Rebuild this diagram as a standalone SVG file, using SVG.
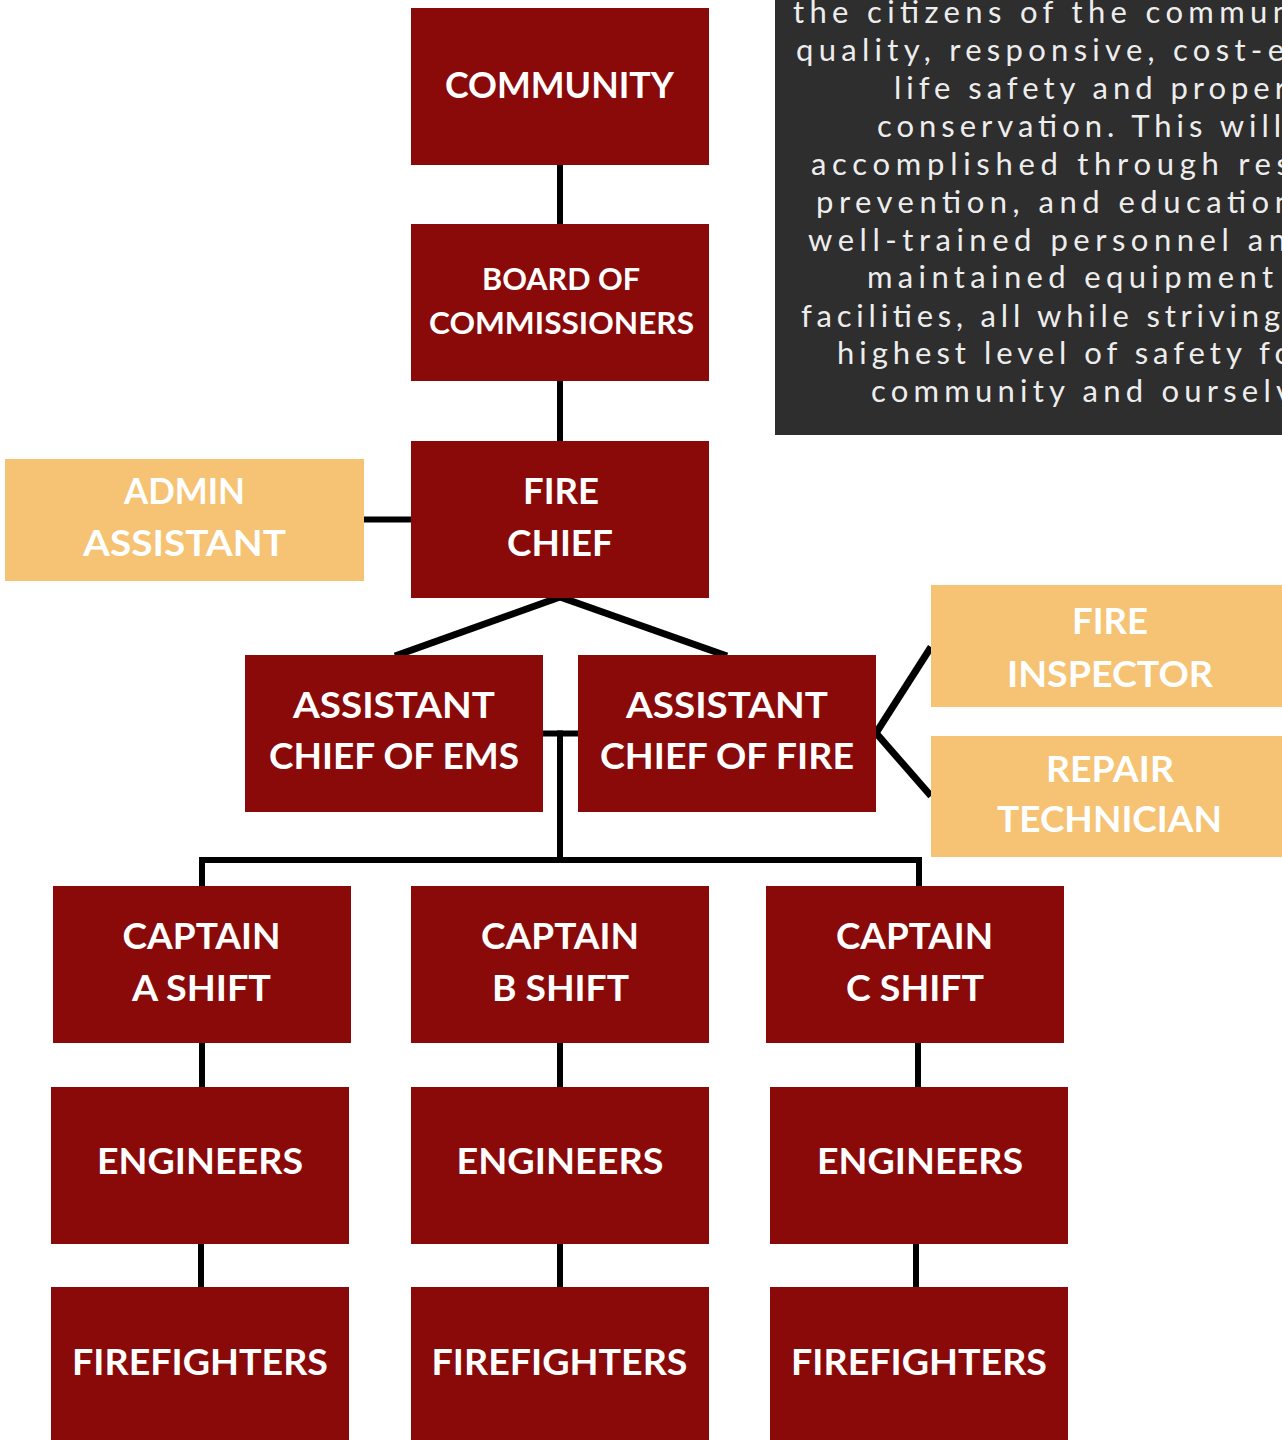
<svg xmlns="http://www.w3.org/2000/svg" width="1282" height="1440" viewBox="0 0 1282 1440">
<style>
.red{fill:#8A0A09}
.gold{fill:#F5C373}
.lbl{font-family:Lato,"Open Sans","Liberation Sans",sans-serif;font-weight:700;font-size:36px;fill:#ffffff;text-anchor:middle}
.sm{font-size:30px}
.mis{font-family:Lato,"Open Sans","Liberation Sans",sans-serif;font-weight:400;font-size:31px;fill:#EDEDED}
.con line,.con polyline{stroke:#000;stroke-width:6;fill:none}
.con .d{stroke-width:7}
</style>
<rect width="1282" height="1440" fill="#ffffff"/>
<g id="mission">
<rect x="775" y="-10" width="520" height="445" fill="#2E2E2E"/>
<text class="mis" x="793" y="23" textLength="497" lengthAdjust="spacing">the citizens of the commun</text>
<text class="mis" x="796" y="61" textLength="488" lengthAdjust="spacing">quality, responsive, cost-e</text>
<text class="mis" x="894" y="99" textLength="392" lengthAdjust="spacing">life safety and proper</text>
<text class="mis" x="877" y="137" textLength="404" lengthAdjust="spacing">conservation. This will</text>
<text class="mis" x="811" y="175" textLength="479" lengthAdjust="spacing">accomplished through res</text>
<text class="mis" x="816" y="213" textLength="476" lengthAdjust="spacing">prevention, and education</text>
<text class="mis" x="808" y="251" textLength="478" lengthAdjust="spacing">well-trained personnel an</text>
<text class="mis" x="867" y="288" textLength="406" lengthAdjust="spacing">maintained equipment</text>
<text class="mis" x="801" y="327" textLength="479" lengthAdjust="spacing">facilities, all while striving</text>
<text class="mis" x="837" y="364" textLength="455" lengthAdjust="spacing">highest level of safety fo</text>
<text class="mis" x="871" y="402" textLength="421" lengthAdjust="spacing">community and ourselv</text>
</g>
<g id="connectors" class="con">
<line x1="560" y1="165" x2="560" y2="224"/>
<line x1="560" y1="381" x2="560" y2="441"/>
<line x1="364" y1="519.5" x2="411" y2="519.5"/>
<line class="d" x1="560" y1="597" x2="395" y2="656"/>
<line class="d" x1="560" y1="597" x2="727" y2="656"/>
<line x1="543" y1="733.5" x2="578" y2="733.5"/>
<line x1="560" y1="730.5" x2="560" y2="860"/>
<polyline points="202,886 202,860 919,860 919,886"/>
<line class="d" x1="876" y1="733" x2="931" y2="647"/>
<line class="d" x1="876" y1="733" x2="931" y2="796"/>
<line x1="202" y1="1043" x2="202" y2="1087"/>
<line x1="560" y1="1043" x2="560" y2="1087"/>
<line x1="918" y1="1043" x2="918" y2="1087"/>
<line x1="201" y1="1244" x2="201" y2="1287"/>
<line x1="560" y1="1244" x2="560" y2="1287"/>
<line x1="916" y1="1244" x2="916" y2="1287"/>
</g>
<g id="community"><rect class="red" x="411" y="8" width="298" height="157"/>
<text class="lbl" x="559.5" y="98" textLength="229" lengthAdjust="spacingAndGlyphs" font-size="37">COMMUNITY</text></g>
<g id="board"><rect class="red" x="411" y="224" width="298" height="157"/>
<text class="lbl sm" x="561" y="290" textLength="158" lengthAdjust="spacingAndGlyphs">BOARD OF</text>
<text class="lbl sm" x="561.5" y="334" textLength="265" lengthAdjust="spacingAndGlyphs">COMMISSIONERS</text></g>
<g id="fire-chief"><rect class="red" x="411" y="441" width="298" height="157"/>
<text class="lbl" x="561" y="504" textLength="76" lengthAdjust="spacingAndGlyphs">FIRE</text>
<text class="lbl" x="560" y="556" textLength="106" lengthAdjust="spacingAndGlyphs">CHIEF</text></g>
<g id="admin-assistant"><rect class="gold" x="5" y="459" width="359" height="122"/>
<text class="lbl" x="184.5" y="504" textLength="121" lengthAdjust="spacingAndGlyphs">ADMIN</text>
<text class="lbl" x="184.5" y="556" textLength="203" lengthAdjust="spacingAndGlyphs">ASSISTANT</text></g>
<g id="asst-chief-ems"><rect class="red" x="245" y="655" width="298" height="157"/>
<text class="lbl" x="394" y="718" textLength="202" lengthAdjust="spacingAndGlyphs">ASSISTANT</text>
<text class="lbl" x="394" y="769" textLength="250" lengthAdjust="spacingAndGlyphs">CHIEF OF EMS</text></g>
<g id="asst-chief-fire"><rect class="red" x="578" y="655" width="298" height="157"/>
<text class="lbl" x="727" y="718" textLength="202" lengthAdjust="spacingAndGlyphs">ASSISTANT</text>
<text class="lbl" x="727" y="769" textLength="254" lengthAdjust="spacingAndGlyphs">CHIEF OF FIRE</text></g>
<g id="fire-inspector"><rect class="gold" x="931" y="585" width="360" height="122"/>
<text class="lbl" x="1110" y="634" textLength="76" lengthAdjust="spacingAndGlyphs">FIRE</text>
<text class="lbl" x="1110" y="687" textLength="206" lengthAdjust="spacingAndGlyphs">INSPECTOR</text></g>
<g id="repair-technician"><rect class="gold" x="931" y="736" width="360" height="121"/>
<text class="lbl" x="1110" y="782" textLength="128" lengthAdjust="spacingAndGlyphs">REPAIR</text>
<text class="lbl" x="1109.5" y="832" textLength="225" lengthAdjust="spacingAndGlyphs">TECHNICIAN</text></g>
<g id="captain-a"><rect class="red" x="53" y="886" width="298" height="157"/>
<text class="lbl" x="201.5" y="949" textLength="158" lengthAdjust="spacingAndGlyphs">CAPTAIN</text>
<text class="lbl" x="201.5" y="1001" textLength="139" lengthAdjust="spacingAndGlyphs">A SHIFT</text></g>
<g id="captain-b"><rect class="red" x="411" y="886" width="298" height="157"/>
<text class="lbl" x="560" y="949" textLength="158" lengthAdjust="spacingAndGlyphs">CAPTAIN</text>
<text class="lbl" x="560.5" y="1001" textLength="137" lengthAdjust="spacingAndGlyphs">B SHIFT</text></g>
<g id="captain-c"><rect class="red" x="766" y="886" width="298" height="157"/>
<text class="lbl" x="914.5" y="949" textLength="157" lengthAdjust="spacingAndGlyphs">CAPTAIN</text>
<text class="lbl" x="915" y="1001" textLength="138" lengthAdjust="spacingAndGlyphs">C SHIFT</text></g>
<g id="engineers-a"><rect class="red" x="51" y="1087" width="298" height="157"/>
<text class="lbl" x="200" y="1174" textLength="206" lengthAdjust="spacingAndGlyphs">ENGINEERS</text></g>
<g id="engineers-b"><rect class="red" x="411" y="1087" width="298" height="157"/>
<text class="lbl" x="560" y="1174" textLength="207" lengthAdjust="spacingAndGlyphs">ENGINEERS</text></g>
<g id="engineers-c"><rect class="red" x="770" y="1087" width="298" height="157"/>
<text class="lbl" x="920" y="1174" textLength="206" lengthAdjust="spacingAndGlyphs">ENGINEERS</text></g>
<g id="firefighters-a"><rect class="red" x="51" y="1287" width="298" height="160"/>
<text class="lbl" x="200" y="1375" textLength="256" lengthAdjust="spacingAndGlyphs">FIREFIGHTERS</text></g>
<g id="firefighters-b"><rect class="red" x="411" y="1287" width="298" height="160"/>
<text class="lbl" x="559.5" y="1375" textLength="256" lengthAdjust="spacingAndGlyphs">FIREFIGHTERS</text></g>
<g id="firefighters-c"><rect class="red" x="770" y="1287" width="298" height="160"/>
<text class="lbl" x="919" y="1375" textLength="256" lengthAdjust="spacingAndGlyphs">FIREFIGHTERS</text></g>
</svg>
